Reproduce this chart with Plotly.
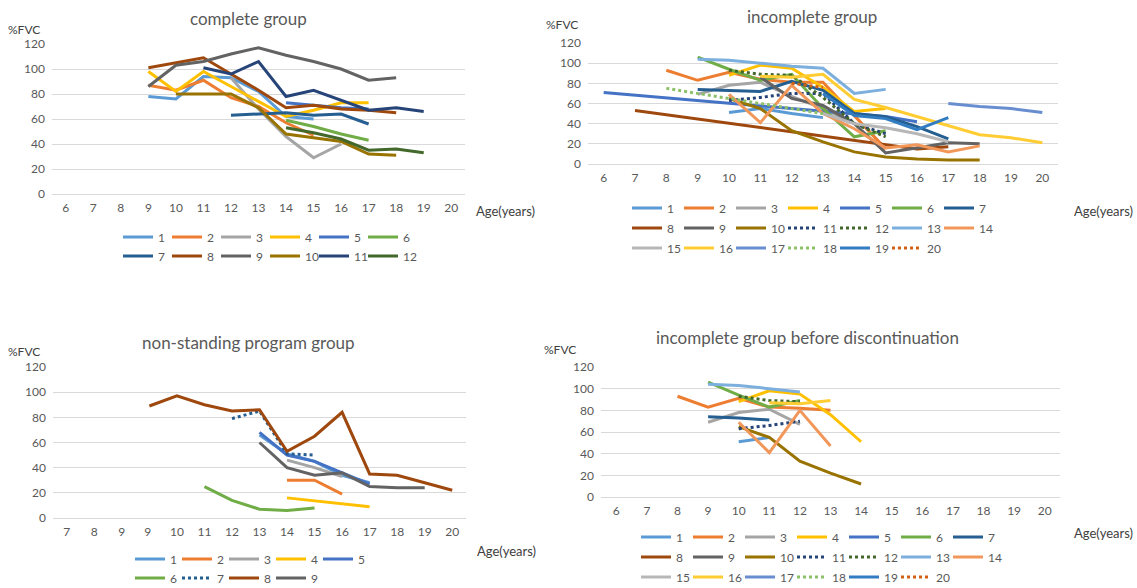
import plotly.graph_objects as go

# ---------------- data ----------------
AGES = [str(a) for a in range(6, 21)]
AGES_NS = ["7", "8", "9", "9 "] + [str(a) for a in range(10, 21)]

# series: name -> (first age category, values)
COMPLETE = {
    "1": ("9", [78, 76, 94, 93, 82, 62, 60]),
    "2": ("9", [87, 83, 91, 77, 70, 57, 47]),
    "3": ("12", [93, 68, 46, 29, 40]),
    "4": ("9", [98, 82, 98, 86, 74, 62, 67, 73, 73]),
    "5": ("14", [73, 71, 69, 68]),
    "6": ("14", [59, 54, 48, 43]),
    "7": ("12", [63, 64, 65, 63, 64, 56]),
    "8": ("9", [101, 105, 109, 96, 83, 69, 71, 68, 67, 65]),
    "9": ("9", [86, 103, 106, 112, 117, 111, 106, 100, 91, 93]),
    "10": ("10", [80, 80, 80, 69, 48, 45, 42, 32, 31]),
    "11": ("11", [101, 96, 106, 78, 83, 75, 67, 69, 66]),
    "12": ("14", [53, 49, 44, 35, 36, 33]),
}

INCOMPLETE = {
    "1": ("10", [51, 55, 50, 46]),
    "2": ("8", [93, 83, 91, 84, 81, 81, 48, 15]),
    "3": ("9", [69, 78, 81, 67, 55, 40]),
    "4": ("10", [88, 98, 95, 76, 52, 55]),
    "5": ("6", [71, None, None, None, None, None, None, None, 50, 47, 42]),
    "6": ("9", [106, 94, 83, 89, 55, 27, 33]),
    "7": ("9", [74, 73, 72, 82, 73, 50, 47, 37, 25]),
    "8": ("7", [53, None, None, None, None, None, None, None, None, 15, 17]),
    "9": ("11", [86, 65, 58, 40, 11, 16, 21, 20]),
    "10": ("10", [65, 55, 33, 22, 12, 7, 5, 4, 4]),
    "11": ("10", [63, 66, 70, 70, 40, 30]),
    "12": ("10", [93, 89, 88, 66, 40, 27]),
    "13": ("9", [104, 103, 100, 97, 95, 70, 74]),
    "14": ("10", [69, 41, 78, 50, 35, 16, 19, 12, 18]),
    "15": ("13", [50, 40, 36, 30, 22]),
    "16": ("11", [87, 86, 89, 64, 56, 47, 38, 29, 26, 21]),
    "17": ("17", [60, 57, 55, 51]),
    "18": ("8", [75, 70, 65, 60, 55, 50]),
    "19": ("13", [70, 48, 45, 34, 46]),
    "20": ("12", [80, 76]),
}

NONSTANDING = {
    "1": ("13", [66, 51, 45, 34, 28]),
    "2": ("14", [30, 30, 19]),
    "3": ("14", [46, 40, 33]),
    "4": ("14", [16, None, None, 9]),
    "5": ("13", [68, 50, 45, 36, 27]),
    "6": ("11", [25, 14, 7, 6, 8]),
    "7": ("12", [79, 85, 51, 50]),
    "8": ("9 ", [89, 97, 90, 85, 86, 53, 65, 84, 35, 34, 28, 22]),
    "9": ("13", [60, 40, 34, 36, 25, 24, 24]),
}

BEFORE_DISC = {
    "1": ("10", [51, 55]),
    "2": ("8", [93, 83, 91, 83, 82, 80]),
    "3": ("9", [69, 78, 81, 67]),
    "4": ("10", [88, 98, 95, 76, 51]),
    "5": ("6", []),
    "6": ("9", [106, 94, 83, 89]),
    "7": ("9", [74, 73, 71]),
    "8": ("6", []),
    "9": ("6", []),
    "10": ("10", [65, 55, 33, 22, 12]),
    "11": ("10", [63, 66, 70]),
    "12": ("10", [93, 89, 88]),
    "13": ("9", [104, 103, 100, 97]),
    "14": ("10", [69, 41, 80, 47]),
    "15": ("6", []),
    "16": ("11", [87, 86, 89]),
    "17": ("6", []),
    "18": ("6", []),
    "19": ("6", []),
    "20": ("6", []),
}

Y_TICKS = [0, 20, 40, 60, 80, 100, 120]

COLORS = {
    "1": "#5B9BD5", "2": "#ED7D31", "3": "#A5A5A5", "4": "#FFC000",
    "5": "#4472C4", "6": "#70AD47", "7": "#255E91", "8": "#9E480E",
    "9": "#636363", "10": "#997300", "11": "#264478", "12": "#43682B",
    "13": "#7CAFDD", "14": "#F1975A", "15": "#B7B7B7", "16": "#FFCD33",
    "17": "#698ED0", "18": "#8CC168", "19": "#327DC2", "20": "#D26012",
}

W, H = 1137, 588
FONT = "Lato, Open Sans, sans-serif"
GRAY = "#595959"
DARK = "#404040"
GRID = "#D9D9D9"


def fx(p):
    return p / W


def fy(p):
    return 1 - p / H


PANELS = [
    dict(data=COMPLETE, cats=AGES, ax="", xd=(52, 465), yd=(194, 44), dotted=set(),
         ew=4,
         rows=[(["1", "2", "3", "4", "5", "6"], 237, 118),
               (["7", "8", "9", "10", "11", "12"], 256, 118)],
         title="complete group", tpos=(248, 18), fvc=(24, 29), age=(474, 211)),
    dict(data=INCOMPLETE, cats=AGES, ax="2", xd=(588, 1058), yd=(164, 43),
         dotted={"11", "12", "18", "20"}, ew=7,
         rows=[([str(i) for i in range(1, 8)], 208, 627),
               ([str(i) for i in range(8, 15)], 228, 627),
               ([str(i) for i in range(15, 21)], 248, 627)],
         title="incomplete group", tpos=(812, 17), fvc=(562, 24), age=(1072, 211)),
    dict(data=NONSTANDING, cats=AGES_NS, ax="3", xd=(53, 466), yd=(518, 367), dotted={"7"},
         ew=2,
         rows=[(["1", "2", "3", "4", "5"], 559, 130),
               (["6", "7", "8", "9"], 578, 130)],
         title="non-standing program group", tpos=(248, 342), fvc=(24, 351), age=(475, 551)),
    dict(data=BEFORE_DISC, cats=AGES, ax="4", xd=(601, 1060), yd=(497, 367),
         dotted={"11", "12", "18", "20"}, ew=7,
         rows=[([str(i) for i in range(1, 8)], 537, 636),
               ([str(i) for i in range(8, 15)], 557, 636),
               ([str(i) for i in range(15, 21)], 577, 636)],
         title="incomplete group before discontinuation", tpos=(807, 337), fvc=(560, 349),
         age=(1072, 533)),
]

fig = go.Figure()
annotations = []
layout = dict(width=W, height=H, margin=dict(l=0, r=0, t=0, b=0, autoexpand=False),
              paper_bgcolor="white", plot_bgcolor="white", font=dict(family=FONT, color=GRAY))

legend_count = 0
for p in PANELS:
    cats = p["cats"]
    xa = "x" + p["ax"]
    ya = "y" + p["ax"]
    row_legend = {}
    last_in_row = set()
    for names, ypx, xpx in p["rows"]:
        legend_count += 1
        lname = "legend" if legend_count == 1 else "legend%d" % legend_count
        for n in names:
            row_legend[n] = lname
        last_in_row.add(names[-1])
        layout[lname] = dict(orientation="h", x=fx(xpx), xanchor="left", y=fy(ypx),
                             yanchor="middle", bgcolor="rgba(0,0,0,0)",
                             font=dict(size=12, color=GRAY, family=FONT),
                             entrywidth=p["ew"], itemwidth=30, tracegroupgap=0)
    for name, (start, vals) in p["data"].items():
        i0 = cats.index(start)
        xs = cats[i0:i0 + len(vals)]
        if not vals:
            xs, vals = [None], [None]
        extra = dict(legendwidth=20) if name in last_in_row else {}
        fig.add_trace(go.Scatter(
            x=xs, y=vals, name=name, mode="lines", connectgaps=True,
            line=dict(color=COLORS[name], width=3,
                      dash="dot" if name in p["dotted"] else "solid"),
            xaxis=xa, yaxis=ya, legend=row_legend[name], hoverinfo="skip",
            **extra,
        ))
    xkey = "xaxis" + p["ax"]
    ykey = "yaxis" + p["ax"]
    layout[xkey] = dict(domain=[fx(p["xd"][0]), fx(p["xd"][1])], anchor=ya,
                        type="category", categoryorder="array", categoryarray=cats,
                        range=[-0.5, len(cats) - 0.5], showgrid=False, zeroline=False,
                        showline=True, linecolor=GRID, linewidth=1, ticks="",
                        tickfont=dict(size=12, color=GRAY, family=FONT),
                        ticklabelstandoff=3, fixedrange=True)
    layout[ykey] = dict(domain=[fy(p["yd"][0]), fy(p["yd"][1])], anchor=xa,
                        range=[0, 120], tickvals=Y_TICKS, showgrid=True,
                        gridcolor=GRID, gridwidth=1, zeroline=False, showline=False,
                        ticks="", tickfont=dict(size=12, color=GRAY, family=FONT),
                        ticklabelstandoff=6, fixedrange=True)
    annotations.append(dict(text=p["title"], x=fx(p["tpos"][0]), y=fy(p["tpos"][1]),
                            xref="paper", yref="paper", xanchor="center", yanchor="middle",
                            showarrow=False, font=dict(size=17, color=GRAY, family=FONT)))
    annotations.append(dict(text="%FVC", x=fx(p["fvc"][0]), y=fy(p["fvc"][1]),
                            xref="paper", yref="paper", xanchor="center", yanchor="middle",
                            showarrow=False, font=dict(size=12, color=DARK, family=FONT)))
    annotations.append(dict(text="Age(years)", x=fx(p["age"][0]), y=fy(p["age"][1]),
                            xref="paper", yref="paper", xanchor="left", yanchor="middle",
                            showarrow=False, font=dict(size=13, color=DARK, family=FONT)))

layout["annotations"] = annotations
fig.update_layout(**layout)
fig.write_html("out.html")
